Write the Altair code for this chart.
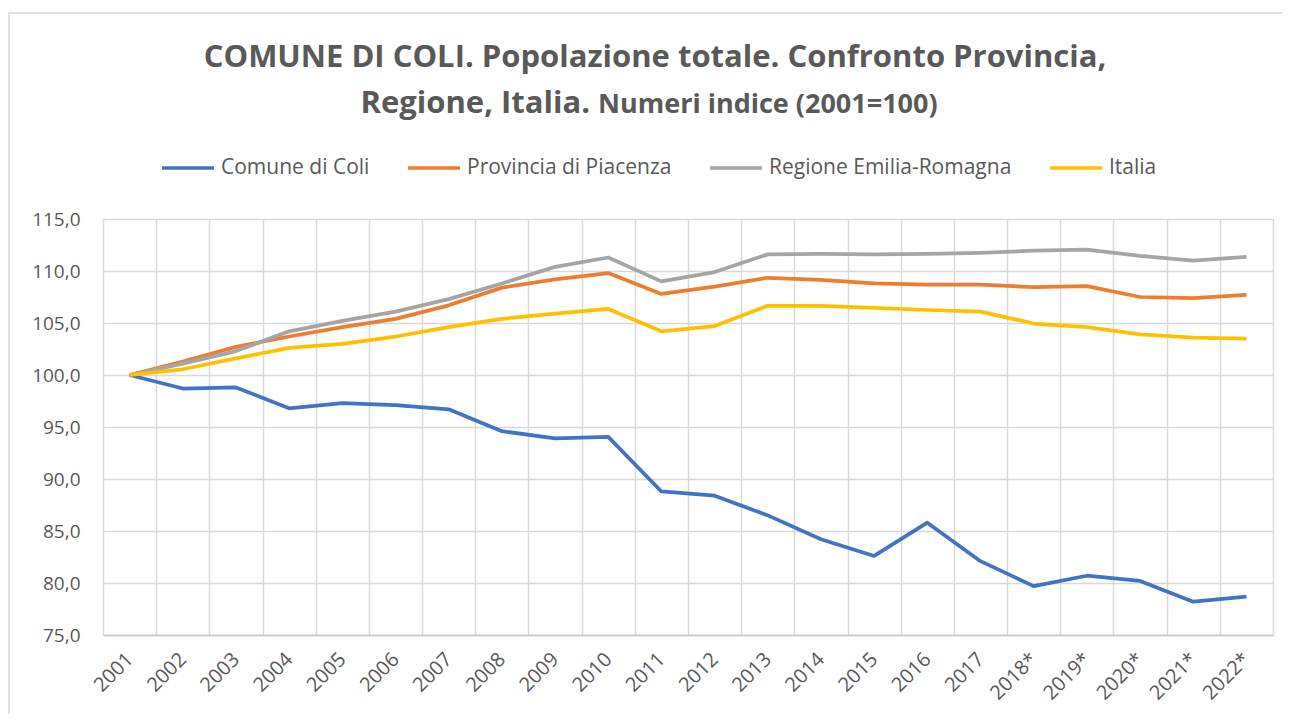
import altair as alt
import pandas as pd

YEARS = ["2001", "2002", "2003", "2004", "2005", "2006", "2007", "2008", "2009", "2010",
         "2011", "2012", "2013", "2014", "2015", "2016", "2017", "2018*", "2019*", "2020*",
         "2021*", "2022*"]

SERIES = ["Comune di Coli", "Provincia di Piacenza", "Regione Emilia-Romagna", "Italia"]
COLORS = ["#4472C4", "#ED7D31", "#A5A5A5", "#FFC000"]

COMUNE = [100.0, 98.7, 98.8, 96.8, 97.3, 97.1, 96.7, 94.6, 93.9, 94.05,
          88.8, 88.4, 86.5, 84.2, 82.6, 85.8, 82.1, 79.7, 80.7, 80.2, 78.2, 78.7]
PROVINCIA = [100.0, 101.3, 102.7, 103.7, 104.6, 105.4, 106.7, 108.4, 109.2, 109.8,
             107.8, 108.5, 109.35, 109.15, 108.8, 108.7, 108.7, 108.45, 108.55, 107.5, 107.4, 107.7]
REGIONE = [100.0, 101.1, 102.3, 104.2, 105.2, 106.1, 107.3, 108.8, 110.4, 111.3,
           109.0, 109.9, 111.6, 111.65, 111.6, 111.65, 111.75, 111.95, 112.05, 111.45, 111.0, 111.35]
ITALIA = [100.0, 100.55, 101.6, 102.6, 103.0, 103.7, 104.6, 105.4, 105.9, 106.35,
          104.2, 104.7, 106.65, 106.65, 106.45, 106.25, 106.1, 104.95, 104.6, 103.9, 103.6, 103.5]

Y_TICKS = [75, 80, 85, 90, 95, 100, 105, 110, 115]

TITLE_1 = "COMUNE DI COLI. Popolazione totale. Confronto Provincia,"
TITLE_2A = "Regione, Italia."
TITLE_2B = "Numeri indice (2001=100)"

rows = []
for name, vals in zip(SERIES, [COMUNE, PROVINCIA, REGIONE, ITALIA]):
    for i, (y, v) in enumerate(zip(YEARS, vals)):
        rows.append({"anno": y, "serie": name, "valore": v, "idx": i})
df = pd.DataFrame(rows)

FONT = "Open Sans"
TXT = "#595959"

W, H = 1170, 416

color = alt.Color(
    "serie:N",
    scale=alt.Scale(domain=SERIES, range=COLORS),
    legend=alt.Legend(
        title=None,
        orient="none",
        legendX=57,
        legendY=-79,
        direction="horizontal",
        symbolType="stroke",
        symbolSize=2704,
        symbolStrokeWidth=3.5,
        labelFontSize=21,
        labelFont=FONT,
        labelColor=TXT,
        labelOffset=5,
        labelLimit=0,
        columnPadding=31,
    ),
)

x_enc = alt.X(
    "anno:N",
    sort=YEARS,
    bandPosition=0.5,
    scale=alt.Scale(type="band", domain=YEARS, paddingInner=0, paddingOuter=0),
    axis=alt.Axis(
        title=None,
        tickBand="extent",
        ticks=False,
        labelAngle=-45,
        labelAlign="right",
        labelBaseline="middle",
        labelPadding=21,
        labelFontSize=20,
        labelFont=FONT,
        labelColor=TXT,
        grid=True,
        gridColor="#d9d9d9",
        gridWidth=1.5,
        domainColor="#c8c8c8",
        domainWidth=1.5,
    ),
)

y_enc = alt.Y(
    "valore:Q",
    scale=alt.Scale(domain=[75, 115], nice=False, zero=False),
    axis=alt.Axis(
        title=None,
        values=Y_TICKS,
        labelExpr="replace(format(datum.value, '.1f'), '.', ',')",
        ticks=False,
        tickSize=0,
        domain=False,
        labelPadding=23,
        labelFontSize=19,
        labelFont=FONT,
        labelColor=TXT,
        gridColor="#d9d9d9",
        gridWidth=1.5,
    ),
)

frame = alt.Chart(pd.DataFrame({"f": [1]})).mark_rect(
    fill=None, stroke="#d9d9d9", strokeWidth=1.5, clip=False
).encode(
    x=alt.value(-94), x2=alt.value(1400), y=alt.value(-206), y2=alt.value(700)
)

layers = [frame]
for name in SERIES:
    layers.append(
        alt.Chart(df)
        .transform_filter(alt.datum.serie == name)
        .mark_line(strokeWidth=3.75, strokeJoin="round")
        .encode(x=x_enc, y=y_enc, color=color, order="idx:Q")
    )

t1 = alt.Chart(pd.DataFrame({"t": [TITLE_1]})).mark_text(
    font=FONT, fontSize=31, fontWeight="bold", color=TXT, align="center", baseline="alphabetic"
).encode(text="t:N", x=alt.value(552), y=alt.value(-152))

t2a = alt.Chart(pd.DataFrame({"t": [TITLE_2A]})).mark_text(
    font=FONT, fontSize=31, fontWeight="bold", color=TXT, align="right", baseline="alphabetic"
).encode(text="t:N", x=alt.value(487), y=alt.value(-106))

t2b = alt.Chart(pd.DataFrame({"t": [TITLE_2B]})).mark_text(
    font=FONT, fontSize=27, fontWeight="bold", color=TXT, align="left", baseline="alphabetic"
).encode(text="t:N", x=alt.value(495), y=alt.value(-106))

chart = alt.layer(*layers, t1, t2a, t2b).properties(
    width=W,
    height=H,
    autosize=alt.AutoSizeParams(type="none"),
    padding={"left": 95, "top": 211, "right": 9, "bottom": 79},
).configure_view(stroke=None).configure(background="white")

chart.save("out.html", embed_options={"renderer": "svg", "actions": False})
